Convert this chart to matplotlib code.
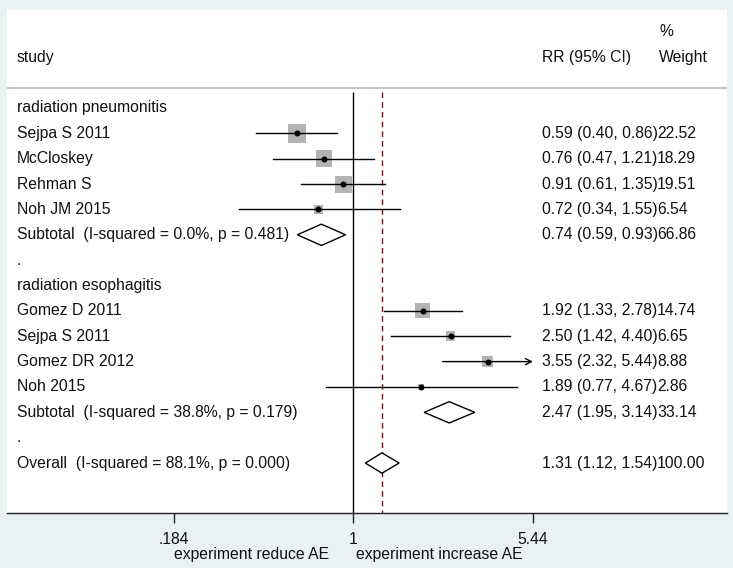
import numpy as np
import matplotlib
matplotlib.use("Agg")
import matplotlib.pyplot as plt
from matplotlib.patches import Polygon
from matplotlib.ticker import NullLocator

plt.rcParams['font.family'] = ['Liberation Sans', 'DejaVu Sans']

# ---------------- data ----------------
pn_group = "radiation pneumonitis"
pn_studies = ["Sejpa S 2011", "McCloskey", "Rehman S", "Noh JM 2015"]
pn_rr = [0.59, 0.76, 0.91, 0.72]
pn_lo = [0.40, 0.47, 0.61, 0.34]
pn_hi = [0.86, 1.21, 1.35, 1.55]
pn_w = [22.52, 18.29, 19.51, 6.54]
pn_sub = [0.74, 0.59, 0.93, 66.86]
pn_sub_label = "Subtotal  (I-squared = 0.0%, p = 0.481)"

es_group = "radiation esophagitis"
es_studies = ["Gomez D 2011", "Sejpa S 2011", "Gomez DR 2012", "Noh 2015"]
es_rr = [1.92, 2.50, 3.55, 1.89]
es_lo = [1.33, 1.42, 2.32, 0.77]
es_hi = [2.78, 4.40, 5.44, 4.67]
es_w = [14.74, 6.65, 8.88, 2.86]
es_sub = [2.47, 1.95, 3.14, 33.14]
es_sub_label = "Subtotal  (I-squared = 38.8%, p = 0.179)"

overall = [1.31, 1.12, 1.54, 100.00]
overall_label = "Overall  (I-squared = 88.1%, p = 0.000)"

xtick_vals = [0.184, 1, 5.44]
xtick_labels = [".184", "1", "5.44"]
xlabel_left = "experiment reduce AE"
xlabel_right = "experiment increase AE"
header_study = "study"
header_ci = "RR (95% CI)"
header_w1 = "%"
header_w2 = "Weight"

# ---------------- layout ----------------
BG = '#eaf1f3'
FS = 11.3
TXT = '#111111'
W, H = 733, 568
L, R, T, B = 7, 727, 10, 513
Y0, ROW = 108.0, 25.36
X1, PX_PER_LN = 353.3, 106.1
X_LABEL, X_CI, X_W = 17, 542, 657
BOX_SCALE = 3.86  # px per sqrt(weight)

fig = plt.figure(figsize=(W / 100, H / 100), dpi=100, facecolor=BG)
ax = fig.add_axes([L / W, 1 - B / H, (R - L) / W, (B - T) / H])
ax.set_facecolor('white')
ax.set_xscale('log')
ax.set_xlim(np.exp((L - X1) / PX_PER_LN), np.exp((R - X1) / PX_PER_LN))
ybot, ytop = (B - Y0) / ROW, (T - Y0) / ROW
ax.set_ylim(ybot, ytop)

for s in ['left', 'right', 'top']:
    ax.spines[s].set_visible(False)
ax.spines['bottom'].set_linewidth(1.0)
ax.spines['bottom'].set_color('#222222')
ax.set_yticks([])
ax.set_xticks(xtick_vals)
ax.set_xticklabels(xtick_labels)
ax.xaxis.set_minor_locator(NullLocator())
ax.tick_params(axis='x', length=7, width=1, direction='out', pad=6.5,
               labelsize=FS, colors='#222222', labelcolor=TXT)

trans = ax.get_yaxis_transform()


def tx(px, r, s, **kw):
    ax.text((px - L) / (R - L), r, s, transform=trans, fontsize=FS,
            color=TXT, va='center', ha='left', **kw)


def diamond(est, lo, hi, r, hh=0.42):
    poly = Polygon([[lo, r], [est, r - hh], [hi, r], [est, r + hh]],
                   closed=True, facecolor='white', edgecolor='black',
                   lw=1.0, zorder=4)
    ax.add_patch(poly)


xmax_tick = max(xtick_vals)


def study(rr, lo, hi, w, r):
    side_px = BOX_SCALE * np.sqrt(w)
    ax.scatter([rr], [r], marker='s', s=(side_px * 0.72) ** 2,
               color='#b3b3b3', edgecolors='none', zorder=2)
    if hi >= xmax_tick:
        ax.annotate('', xy=(xmax_tick, r), xytext=(lo, r),
                    arrowprops=dict(arrowstyle='->', lw=1.0, color='black',
                                    shrinkA=0, shrinkB=0, mutation_scale=11),
                    zorder=3)
    else:
        ax.plot([lo, hi], [r, r], color='black', lw=1.0, zorder=3)
    ax.plot([rr], [r], marker='o', ms=3.3, color='black', zorder=5)


# headers
tx(X_LABEL, -2, header_study)
tx(X_CI, -2, header_ci)
tx(X_W + 2, -3, header_w1)
tx(X_W + 2, -2, header_w2)
ax.axhline(-0.79, color='#c4c4c4', lw=1.5)

# reference lines
ax.vlines(1, -0.62, ybot, color='black', lw=1.0, zorder=1)
ax.vlines(overall[0], -0.62, ybot, color='#7a1010', lw=1.0,
          linestyles=(0, (4, 3)), zorder=1)

row = 0
for grp, names, rr, lo, hi, ww, sub, sub_lab in [
        (pn_group, pn_studies, pn_rr, pn_lo, pn_hi, pn_w, pn_sub, pn_sub_label),
        (es_group, es_studies, es_rr, es_lo, es_hi, es_w, es_sub, es_sub_label)]:
    tx(X_LABEL, row, grp)
    row += 1
    for n, a, b, c, w in zip(names, rr, lo, hi, ww):
        tx(X_LABEL, row, n)
        study(a, b, c, w, row)
        tx(X_CI, row, f"{a:.2f} ({b:.2f}, {c:.2f})")
        tx(X_W, row, f"{w:.2f}")
        row += 1
    tx(X_LABEL, row, sub_lab)
    diamond(sub[0], sub[1], sub[2], row)
    tx(X_CI, row, f"{sub[0]:.2f} ({sub[1]:.2f}, {sub[2]:.2f})")
    tx(X_W, row, f"{sub[3]:.2f}")
    row += 1
    tx(X_LABEL, row, ".")
    row += 1

tx(X_LABEL, row, overall_label)
diamond(overall[0], overall[1], overall[2], row, hh=0.4)
tx(X_CI, row, f"{overall[0]:.2f} ({overall[1]:.2f}, {overall[2]:.2f})")
tx(X_W, row, f"{overall[3]:.2f}")

fig.text(329 / W, 1 - 555 / H, xlabel_left, ha='right', va='center',
         fontsize=FS, color=TXT)
fig.text(356 / W, 1 - 555 / H, xlabel_right, ha='left', va='center',
         fontsize=FS, color=TXT)

fig.savefig('out.png', dpi=100, facecolor=fig.get_facecolor())
